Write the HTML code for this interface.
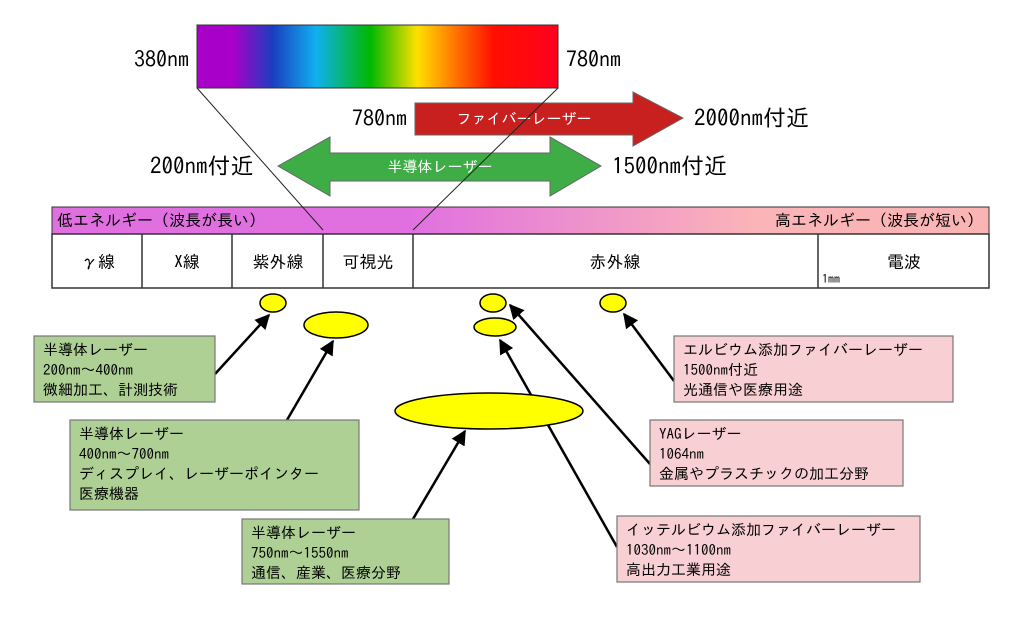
<!DOCTYPE html>
<html><head><meta charset="utf-8">
<style>
html,body{margin:0;padding:0;background:#fff;}
svg{display:block;}
text{font-family:"IPAGothic","Noto Sans CJK JP",sans-serif;}
</style></head>
<body>
<svg width="1024" height="620" viewBox="0 0 1024 620" xmlns="http://www.w3.org/2000/svg">
<defs>
<linearGradient id="spec" x1="0" x2="1" y1="0" y2="0">
<stop offset="0" stop-color="#a800c8"/>
<stop offset="0.1" stop-color="#a800c8"/>
<stop offset="0.21" stop-color="#1a3ec0"/>
<stop offset="0.33" stop-color="#10b0f0"/>
<stop offset="0.48" stop-color="#00b800"/>
<stop offset="0.61" stop-color="#ffe000"/>
<stop offset="0.72" stop-color="#ff7000"/>
<stop offset="0.82" stop-color="#ff1000"/>
<stop offset="1" stop-color="#ff0020"/>
</linearGradient>
<linearGradient id="en" x1="0" x2="1" y1="0" y2="0">
<stop offset="0" stop-color="#e070e0"/>
<stop offset="0.38" stop-color="#e070e0"/>
<stop offset="0.75" stop-color="#fbb4b8"/>
<stop offset="1" stop-color="#fbb4b4"/>
</linearGradient>
<marker id="ah" viewBox="0 0 10 10" refX="9" refY="5" markerWidth="6" markerHeight="6" orient="auto" markerUnits="strokeWidth">
<path d="M0,0 L10,5 L0,10 z" fill="#000"/>
</marker>
</defs>

<rect x="197" y="25" width="361" height="63" fill="url(#spec)" stroke="#333" stroke-width="1"/>
<text x="189" y="67" font-size="22" text-anchor="end">380nm</text>
<text x="566" y="67" font-size="22">780nm</text>

<path d="M415,103 L633,103 L633,92 L683,118 L633,146 L633,135 L415,135 Z" fill="#c8201e" stroke="#666" stroke-width="1"/>
<text x="524" y="124" font-size="15" fill="#fff" text-anchor="middle">ファイバーレーザー</text>
<text x="407" y="126" font-size="22" text-anchor="end">780nm</text>
<text x="694" y="126" font-size="23">2000nm付近</text>

<path d="M278,166 L330,137 L330,153 L550,153 L550,137 L601,166 L550,196 L550,181 L330,181 L330,196 Z" fill="#3fad46" stroke="#666" stroke-width="1"/>
<text x="440" y="172" font-size="15" fill="#fff" text-anchor="middle">半導体レーザー</text>
<text x="150" y="174" font-size="23">200nm付近</text>
<text x="612" y="174" font-size="23">1500nm付近</text>

<rect x="52" y="207" width="937" height="27" fill="url(#en)" stroke="#333" stroke-width="1"/>
<text x="57" y="226" font-size="16">低エネルギー（波長が長い）</text>
<text x="983" y="226" font-size="16" text-anchor="end">高エネルギー（波長が短い）</text>

<line x1="197" y1="88" x2="323" y2="230" stroke="#222" stroke-width="1"/>
<line x1="558" y1="88" x2="413" y2="230" stroke="#222" stroke-width="1"/>

<rect x="52" y="234" width="937" height="54" fill="#fff" stroke="#333" stroke-width="1.5"/>
<g stroke="#333" stroke-width="1.5">
<line x1="142" y1="234" x2="142" y2="288"/>
<line x1="232" y1="234" x2="232" y2="288"/>
<line x1="323" y1="234" x2="323" y2="288"/>
<line x1="413" y1="234" x2="413" y2="288"/>
<line x1="818" y1="234" x2="818" y2="288"/>
</g>
<g font-size="17" text-anchor="middle">
<text x="98" y="268">γ線</text>
<text x="187" y="268">X線</text>
<text x="278" y="268">紫外線</text>
<text x="368" y="268">可視光</text>
<text x="615" y="268">赤外線</text>
<text x="904" y="268">電波</text>
</g>
<text x="822" y="283" font-size="12">1mm</text>

<g stroke="#000" stroke-width="2.5" fill="none" marker-end="url(#ah)">
<line x1="215" y1="374" x2="269" y2="315"/>
<line x1="287" y1="420" x2="333" y2="341"/>
<line x1="413" y1="519" x2="465" y2="431"/>
<line x1="650" y1="464" x2="510" y2="305"/>
<line x1="617" y1="547" x2="500" y2="340"/>
<line x1="674" y1="381" x2="624" y2="314"/>
</g>

<g fill="#ffff00" stroke="#000" stroke-width="1.5">
<ellipse cx="273" cy="303" rx="13" ry="9"/>
<ellipse cx="336" cy="325" rx="32" ry="13"/>
<ellipse cx="493" cy="303" rx="13" ry="9"/>
<ellipse cx="495" cy="327" rx="21" ry="9"/>
<ellipse cx="489" cy="411" rx="94" ry="18"/>
<ellipse cx="613" cy="303" rx="13" ry="9"/>
</g>

<g fill="#aed095" stroke="#777" stroke-width="1.2">
<rect x="34" y="336" width="181" height="66"/>
<rect x="70" y="420" width="289" height="90"/>
<rect x="242" y="519" width="207" height="65"/>
</g>
<g font-size="15">
<text x="43" y="355">半導体レーザー</text>
<text x="43" y="375">200nm～400nm</text>
<text x="43" y="395">微細加工、計測技術</text>
<text x="79" y="439">半導体レーザー</text>
<text x="79" y="459">400nm～700nm</text>
<text x="79" y="479">ディスプレイ、レーザーポインター</text>
<text x="79" y="499">医療機器</text>
<text x="251" y="538">半導体レーザー</text>
<text x="251" y="558">750nm～1550nm</text>
<text x="251" y="578">通信、産業、医療分野</text>
</g>

<g fill="#f8d0d4" stroke="#777" stroke-width="1.2">
<rect x="674" y="336" width="279" height="66"/>
<rect x="650" y="420" width="253" height="66"/>
<rect x="617" y="516" width="303" height="66"/>
</g>
<g font-size="15">
<text x="683" y="355">エルビウム添加ファイバーレーザー</text>
<text x="683" y="375">1500nm付近</text>
<text x="683" y="395">光通信や医療用途</text>
<text x="659" y="439">YAGレーザー</text>
<text x="659" y="459">1064nm</text>
<text x="659" y="479">金属やプラスチックの加工分野</text>
<text x="626" y="535">イッテルビウム添加ファイバーレーザー</text>
<text x="626" y="555">1030nm～1100nm</text>
<text x="626" y="575">高出力工業用途</text>
</g>
</svg>
</body></html>
